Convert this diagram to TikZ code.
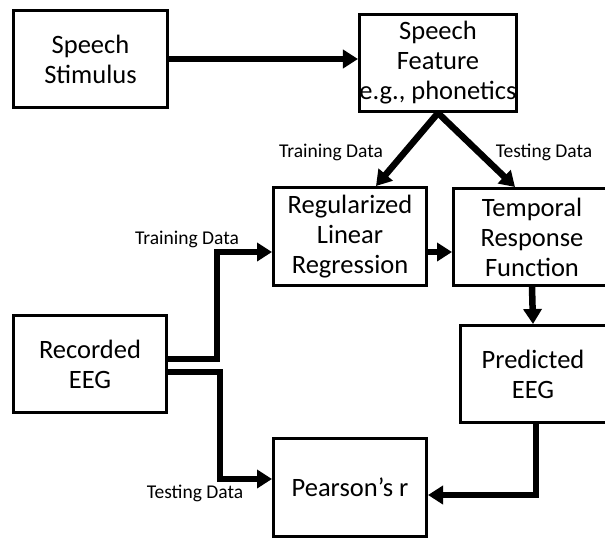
\documentclass[tikz,border=0pt]{standalone}
\usepackage{fontspec}
\setmainfont{Carlito}
\usetikzlibrary{arrows.meta}

\begin{document}
\begin{tikzpicture}[x=1pt,y=-1pt,
    box/.style={draw,line width=3pt,align=center,inner sep=0pt,
      font=\fontsize{26.5}{30}\selectfont},
    conn/.style={line width=6.5pt,line join=miter,
      -{Triangle[length=15pt,width=18pt]}},
    lbl/.style={font=\fontsize{19.5}{22}\selectfont,inner sep=0pt}]
      \clip (0,0) rectangle (605,539);

      \node[box,minimum width=154pt,minimum height=97pt] (stim) at (90.5,59) {Speech\\Stimulus};
      \node[box,minimum width=157pt,minimum height=97pt] (feat) at (438,63) {Speech\\Feature\\e.g., phonetics};
      \node[box,minimum width=153pt,minimum height=98pt] (reg) at (350,236.5) {Regularized\\Linear\\Regression};
      \node[box,minimum width=157pt,minimum height=97pt] (trf) at (532,237) {Temporal\\Response\\Function};
      \node[box,minimum width=146pt,minimum height=97pt] (pred) at (533,374) {Predicted\\EEG};
      \node[box,minimum width=153pt,minimum height=97pt] (eeg) at (90,364) {Recorded\\EEG};
      \node[box,minimum width=153pt,minimum height=98pt] (corr) at (350,487.5) {Pearson’s r};

      \node[lbl] (ftrain) at (331,152) {Training Data};
      \node[lbl] (ftest) at (544,152) {Testing Data};
      \node[lbl] (etrain) at (187,239) {Training Data};
      \node[lbl] (etest) at (195,493) {Testing Data};

      \draw[conn] (stim.east) -- (stim.east -| feat.west);
      \draw[conn] (feat.south) -- ([xshift=26pt]reg.north);
      \draw[conn] (feat.south) -- ([xshift=-17pt]trf.north);
      \draw[conn] ([yshift=-15.5pt]reg.east) -- ([yshift=-15.5pt]reg.east -| trf.west);
      \draw[conn] (trf.south) -- (pred.north);
      \draw[conn] ([xshift=3pt]pred.south) |- ([yshift=-7.5pt]corr.east);
      \draw[conn] ([yshift=5pt]eeg.east) -- ++(49,0) |- ([yshift=-15.5pt]reg.west);
      \draw[conn] ([yshift=-8pt]eeg.east) -- ++(52,0) |- ([yshift=8.5pt]corr.west);
\end{tikzpicture}
\end{document}
